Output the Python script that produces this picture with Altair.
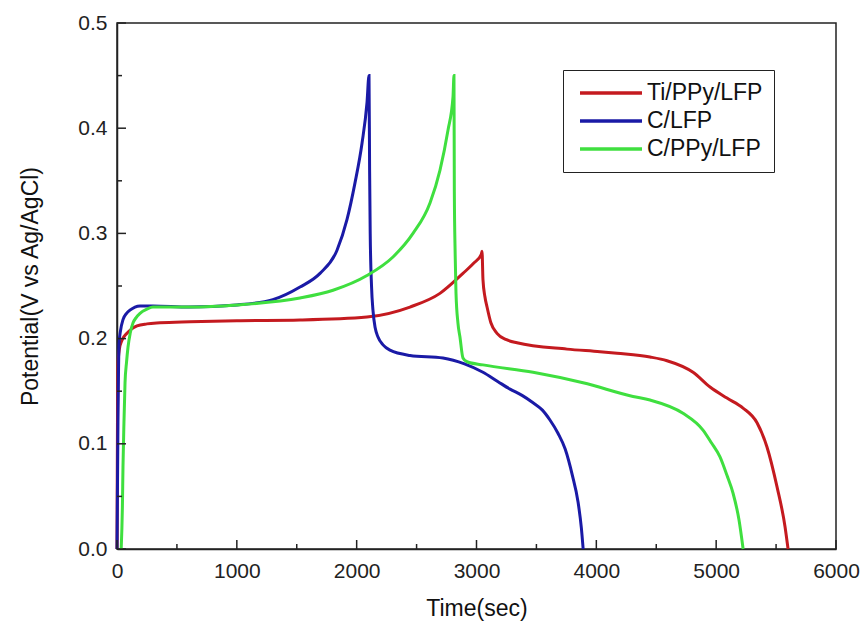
import altair as alt
import pandas as pd

# ---- data ----
series_names = ["Ti/PPy/LFP", "C/LFP", "C/PPy/LFP"]
series_colors = ["#c41a1f", "#1a1aa6", "#3fdf3f"]

red_t = [0, 4, 8, 20, 40, 83, 120, 167, 250, 359, 609, 1000, 1527, 2086, 2445, 2695,
         2887, 2980, 3040, 3046, 3054, 3070, 3088, 3120, 3171, 3250, 3338, 3755, 4031,
         4173, 4448, 4590, 4807, 4949, 5090, 5224, 5341, 5424, 5508, 5575, 5600]
red_v = [0.0, 0.12, 0.175, 0.19, 0.198, 0.205, 0.209, 0.212, 0.214, 0.215, 0.216, 0.217,
         0.2177, 0.2205, 0.230, 0.243, 0.262, 0.272, 0.280, 0.283, 0.256, 0.240, 0.230,
         0.215, 0.205, 0.199, 0.196, 0.190, 0.1875, 0.186, 0.1825, 0.179, 0.168, 0.154,
         0.1435, 0.134, 0.120, 0.097, 0.059, 0.021, 0.0]

blue_t = [0, 8, 17, 30, 50, 80, 108, 150, 192, 300, 600, 1000, 1300, 1527, 1694, 1836,
          1919, 1986, 2045, 2086, 2103, 2108, 2113, 2124, 2136, 2155, 2178, 2220, 2278,
          2445, 2720, 2900, 3054, 3180, 3280, 3380, 3472, 3550, 3613, 3680, 3740, 3800,
          3847, 3875, 3890]
blue_v = [0.0, 0.12, 0.195, 0.208, 0.218, 0.224, 0.227, 0.230, 0.231, 0.231, 0.230,
          0.232, 0.237, 0.249, 0.262, 0.284, 0.313, 0.348, 0.386, 0.424, 0.450, 0.360,
          0.300, 0.250, 0.227, 0.210, 0.2015, 0.194, 0.189, 0.184, 0.1816, 0.176, 0.168,
          0.159, 0.152, 0.146, 0.139, 0.132, 0.1226, 0.110, 0.095, 0.070, 0.045, 0.020, 0.0]

green_t = [35, 45, 50, 58, 67, 80, 92, 110, 134, 160, 192, 250, 300, 609, 1000, 1527,
           1803, 2086, 2303, 2470, 2612, 2695, 2762, 2804, 2812, 2815, 2822, 2829, 2845,
           2862, 2887, 2921, 3054, 3472, 3889, 4306, 4448, 4723, 4890, 4960, 5032, 5090,
           5141, 5190, 5225]
green_v = [0.0, 0.04, 0.078, 0.12, 0.158, 0.178, 0.192, 0.205, 0.215, 0.220, 0.224,
           0.228, 0.230, 0.230, 0.232, 0.2386, 0.246, 0.260, 0.2776, 0.300, 0.329, 0.360,
           0.398, 0.430, 0.450, 0.340, 0.280, 0.243, 0.215, 0.2015, 0.1816, 0.178, 0.175,
           0.168, 0.158, 0.145, 0.1416, 0.129, 0.113, 0.101, 0.0875, 0.070, 0.053, 0.028, 0.0]

x_major = [0, 1000, 2000, 3000, 4000, 5000, 6000]
x_minor = [500, 1500, 2500, 3500, 4500, 5500]
y_major = [0.0, 0.1, 0.2, 0.3, 0.4, 0.5]
y_minor = [0.05, 0.15, 0.25, 0.35, 0.45]

rows = []
for name, ts, vs in [("Ti/PPy/LFP", red_t, red_v), ("C/LFP", blue_t, blue_v),
                     ("C/PPy/LFP", green_t, green_v)]:
    for i, (t, v) in enumerate(zip(ts, vs)):
        rows.append({"series": name, "time": t, "potential": v, "order": i})
df = pd.DataFrame(rows)

W, H = 719, 526
FONT = "Liberation Sans"
AX = "#222222"

xs = alt.Scale(domain=[0, 6000], nice=False, zero=False)
ys = alt.Scale(domain=[0, 0.5], nice=False)
x_axis = alt.Axis(values=x_major, format="d", ticks=False, grid=False, labelPadding=11,
                  labelFlush=False, titlePadding=16)
y_axis = alt.Axis(values=y_major, format=".1f", ticks=False, grid=False,
                  labelPadding=10, labelFlush=False, titlePadding=35)
XT = "Time(sec)"
YT = "Potential(V vs Ag/AgCl)"

lines = alt.Chart(df).mark_line(strokeWidth=3, interpolate="monotone").encode(
    x=alt.X("time:Q", scale=xs, title=XT, axis=x_axis),
    y=alt.Y("potential:Q", scale=ys, title=YT, axis=y_axis),
    color=alt.Color("series:N",
                    scale=alt.Scale(domain=series_names, range=series_colors),
                    sort=series_names,
                    legend=alt.Legend(title=None, orient="none", legendX=446, legendY=47,
                                      strokeColor=AX, fillColor="white", padding=11,
                                      symbolType="M-0.6,0H5.6", symbolSize=400,
                                      symbolStrokeWidth=3.5, labelFontSize=23,
                                      labelFont=FONT, labelColor="#111",
                                      rowPadding=4, labelOffset=49)),
    order="order:Q",
    detail="series:N",
)

def xticks(vals, length):
    return alt.Chart(pd.DataFrame({"time": vals})).mark_rule(
        color=AX, strokeWidth=1.5).encode(
        x=alt.X("time:Q", scale=xs, title=XT, axis=x_axis),
        y=alt.value(H), y2=alt.value(H - length))

def yticks(vals, length):
    return alt.Chart(pd.DataFrame({"potential": vals})).mark_rule(
        color=AX, strokeWidth=1.5).encode(
        y=alt.Y("potential:Q", scale=ys, title=YT, axis=y_axis),
        x=alt.value(0), x2=alt.value(length))

chart = alt.layer(
    lines,
    xticks(x_major, 9), xticks(x_minor, 5),
    yticks(y_major, 9), yticks(y_minor, 5),
).properties(
    width=W, height=H,
    background="white",
    autosize=alt.AutoSizeParams(type="none"),
    padding={"left": 117, "top": 23, "right": 26, "bottom": 77},
).configure_view(
    stroke=AX, strokeWidth=1.5
).configure_axis(
    domainColor=AX, domainWidth=1.5, labelFont=FONT, labelFontSize=21,
    labelColor="#222", titleFont=FONT, titleFontSize=23, titleColor="#111",
    titleFontWeight="normal"
)

chart.save("out.html", embed_options={"renderer": "svg", "actions": False})
